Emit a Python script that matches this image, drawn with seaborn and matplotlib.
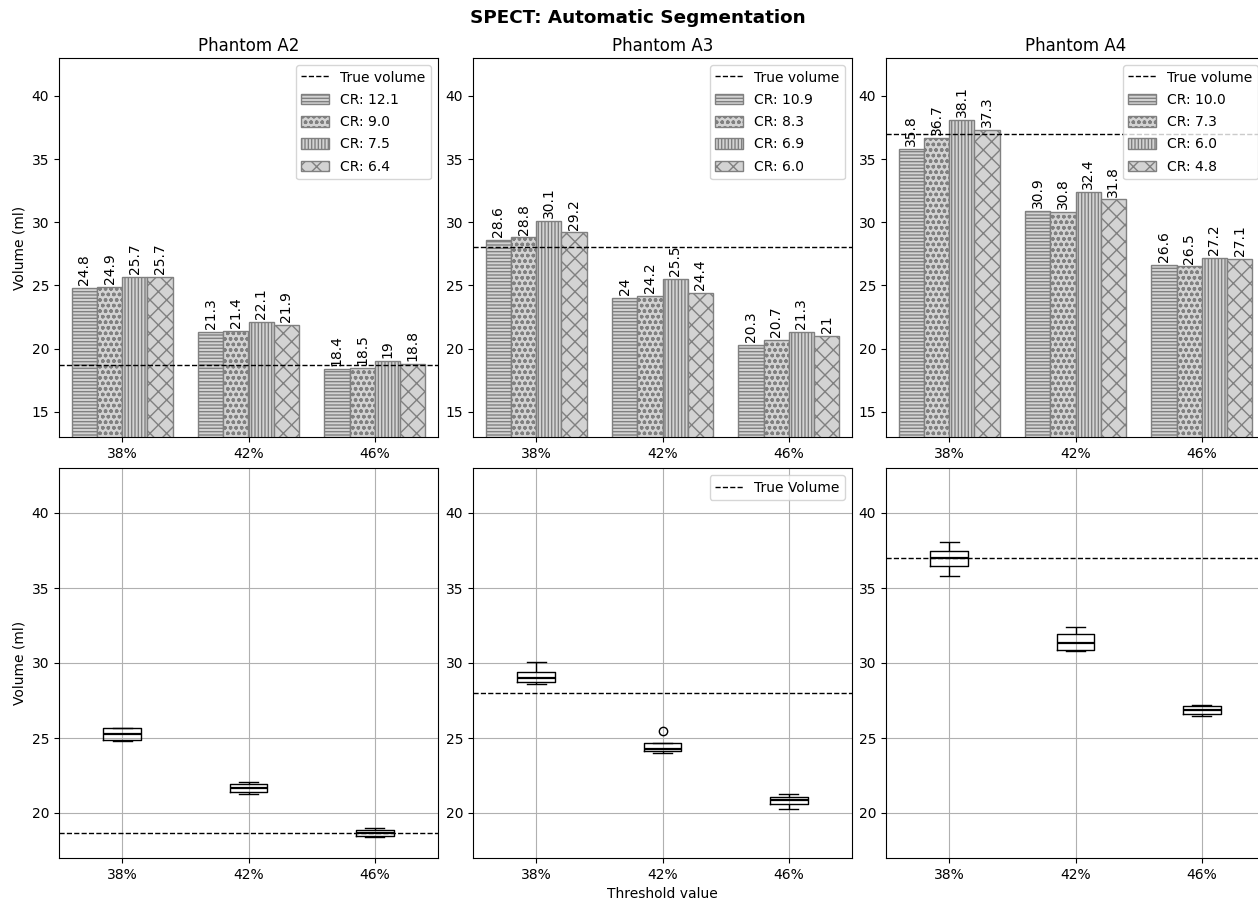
import numpy as np
import pandas as pd
import matplotlib
matplotlib.use("Agg")
import matplotlib.pyplot as plt
from matplotlib.lines import Line2D
import seaborn as sns

thresholds = ["38%", "42%", "46%"]
phantoms = ["Phantom A2", "Phantom A3", "Phantom A4"]

# CR labels per phantom
cr_a2 = ["CR: 12.1", "CR: 9.0", "CR: 7.5", "CR: 6.4"]
cr_a3 = ["CR: 10.9", "CR: 8.3", "CR: 6.9", "CR: 6.0"]
cr_a4 = ["CR: 10.0", "CR: 7.3", "CR: 6.0", "CR: 4.8"]

# Volumes (ml) per CR series, over thresholds 38%, 42%, 46%
a2_vals = [[24.8, 21.3, 18.4], [24.9, 21.4, 18.5], [25.7, 22.1, 19.0], [25.7, 21.9, 18.8]]
a3_vals = [[28.6, 24.0, 20.3], [28.8, 24.2, 20.7], [30.1, 25.5, 21.3], [29.2, 24.4, 21.0]]
a4_vals = [[35.8, 30.9, 26.6], [36.7, 30.8, 26.5], [38.1, 32.4, 27.2], [37.3, 31.8, 27.1]]

true_volumes = [18.7, 28.0, 37.0]

hatches = ["-----", "ooo", "|||||", "xx"]

crs = [cr_a2, cr_a3, cr_a4]
vals = [a2_vals, a3_vals, a4_vals]

W, H = 1258, 900
fig = plt.figure(figsize=(W / 100, H / 100), dpi=100)

col_left = [59, 473, 886]
ax_w = 379
top_rows = (58, 437)
bot_rows = (468, 858)


def make_ax(left, top, bottom):
    return fig.add_axes([left / W, 1 - bottom / H, ax_w / W, (bottom - top) / H])


for i in range(3):
    rows = []
    for s, lab in enumerate(crs[i]):
        for t, th in enumerate(thresholds):
            rows.append({"threshold": th, "series": lab, "volume": vals[i][s][t]})
    df = pd.DataFrame(rows)

    # ---- top: grouped bars ----
    ax = make_ax(col_left[i], *top_rows)
    sns.barplot(data=df, x="threshold", y="volume", hue="series", order=thresholds,
                hue_order=crs[i], palette=["lightgray"] * 4, saturation=1,
                edgecolor="gray", linewidth=1, errorbar=None, legend=False, ax=ax)
    for c, h in zip(ax.containers, hatches):
        for p in c.patches:
            p.set_hatch(h)
            p.set_edgecolor("gray")
        ax.bar_label(c, fmt="%g", rotation=90, padding=2, fontsize=10)
    ax.axhline(true_volumes[i], color="black", linestyle="--", linewidth=1)
    ax.set_ylim(13, 43)
    ax.set_xlim(-0.5, 2.5)
    ax.set_title(phantoms[i], fontsize=12, pad=5)
    ax.set_xlabel("")
    ax.set_ylabel("Volume (ml)" if i == 0 else "")
    handles = [Line2D([0], [0], color="black", linestyle="--", linewidth=1)] + list(ax.containers)
    labels = ["True volume"] + crs[i]
    ax.legend(handles, labels, loc="upper right", fontsize=10, labelspacing=0.6,
              handleheight=0.8)

    # ---- bottom: boxplots ----
    axb = make_ax(col_left[i], *bot_rows)
    sns.boxplot(data=df, x="threshold", y="volume", order=thresholds, width=0.3,
                fill=False, color="black", linecolor="black", linewidth=1,
                medianprops=dict(linewidth=1.6, color="black"),
                flierprops=dict(marker="o", markerfacecolor="none",
                                markeredgecolor="black", markersize=6),
                ax=axb)
    axb.grid(True, color="#b0b0b0", linewidth=0.8)
    axb.set_axisbelow(True)
    axb.axhline(true_volumes[i], color="black", linestyle="--", linewidth=1,
                label="True Volume")
    axb.set_ylim(17, 43)
    axb.set_xlim(-0.5, 2.5)
    axb.set_yticks([20, 25, 30, 35, 40])
    axb.set_xlabel("Threshold value" if i == 1 else "")
    axb.set_ylabel("Volume (ml)" if i == 0 else "")
    if i == 1:
        axb.legend(loc="upper right", fontsize=10)

fig.suptitle("SPECT: Automatic Segmentation", fontsize=13.2, fontweight="bold",
             x=638 / W, y=1 - 9 / H, va="top")

fig.savefig("out.png", dpi=100)
